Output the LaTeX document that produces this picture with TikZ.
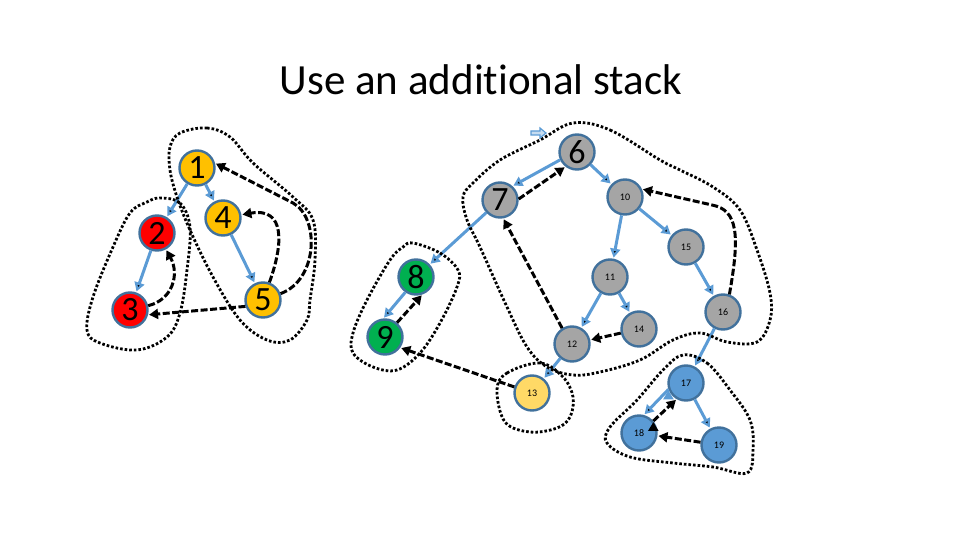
\documentclass[tikz,border=0pt]{standalone}
\usepackage{xcolor}
\usepackage{fontspec}
\setmainfont{Carlito}[Ligatures=NoCommon]
\usepackage {tikz}
\usetikzlibrary{automata, positioning, arrows.meta}

\definecolor{rim}{HTML}{41719C}
\definecolor{bluearc}{HTML}{5B9BD5}
\definecolor{gold}{HTML}{FFC000}
\definecolor{ash}{HTML}{A5A5A5}
\definecolor{leaf}{HTML}{00B050}
\definecolor{pale}{HTML}{FFD966}
\definecolor{sky}{HTML}{5B9BD5}

\tikzset{
	state/.append style={draw=rim, line width=2.4pt, minimum size=35pt, inner sep=0pt,
		font=\fontsize{34}{34}\selectfont},
	minor/.style={font=\fontsize{10}{10}\selectfont},
	treeline/.style={draw=bluearc, line width=3pt, -{Triangle[length=9pt,width=10pt]}},
	backline/.style={draw=black, line width=3pt, dash pattern=on 7pt off 2.5pt,
		-{Triangle[length=9pt,width=10pt]}},
	stackline/.style={draw=black, line width=2.8pt, dash pattern=on 2.6pt off 2pt},
}

\begin{document}
\begin{tikzpicture}[x=1pt,y=-1pt,shorten >=1pt,auto,semithick]
	\useasboundingbox (0,0) rectangle (960,540);
	\node[anchor=base, font=\fontsize{43}{43}\selectfont] (head) at (481,95) {Use an additional stack};

		\node[state,fill=gold]		(n1)	at (197,168)	{1};
		\node[state,fill=red]		(n2)	at (157,233)	{2};
		\node[state,fill=red]		(n3)	at (130,310)	{3};
		\node[state,fill=gold]		(n4)	at (223,218)	{4};
		\node[state,fill=gold]		(n5)	at (263,300)	{5};

		\node[state,fill=ash]		(n6)	at (577,152)	{6};
		\node[state,fill=ash]		(n7)	at (500,200)	{7};
		\node[state,fill=leaf]		(n8)	at (416,277)	{8};
		\node[state,fill=leaf]		(n9)	at (385,337)	{9};
		\node[state,minor,fill=ash]	(n10)	at (625,197)	{10};
		\node[state,minor,fill=ash]	(n11)	at (610,277)	{11};
		\node[state,minor,fill=ash]	(n12)	at (572,344)	{12};
		\node[state,minor,fill=pale]	(n13)	at (532,393)	{13};
		\node[state,minor,fill=ash]	(n14)	at (639,329)	{14};
		\node[state,minor,fill=ash]	(n15)	at (686,247)	{15};
		\node[state,minor,fill=ash]	(n16)	at (723,312)	{16};
		\node[state,minor,fill=sky]	(n17)	at (686,383)	{17};
		\node[state,minor,fill=sky]	(n18)	at (639,433)	{18};
		\node[state,minor,fill=sky]	(n19)	at (719,445)	{19};

		% the tree
		\path[treeline]
			(n1)	edge	(n2)
			(n1)	edge	(n4)
			(n2)	edge	(n3)
			(n4)	edge	(n5)
			(n6.205)	edge	(n7.48)
			(n6)	edge	(n10)
			(n7)	edge	(n8)
			(n8.235)	edge	(n9.95)
			(n10)	edge	(n11)
			(n10)	edge	(n15)
			(n11)	edge	(n12)
			(n11)	edge	(n14)
			(n15)	edge	(n16)
			(n16)	edge	(n17)
			(n12)	edge	(n13)
			(n17.200)	edge	(n18.75)
			(n17)	edge	(n19)
			;

		% pops from the stack
		\path[backline]
			(n5.200)	edge	(n3.-15)
			(n7.3)	edge	(n6.232)
			(n9.50)	edge	(n8.-70)
			(n13)	edge	(n9.-35)
			(n12.122)	edge	(n7.-80)
			(n14)	edge	(n12)
			(n18.40)	edge	(n17.240)
			(n19)	edge	(n18)
			;
		\draw[backline] (n3) .. controls (172,300) and (180,275) .. (n2);
		\draw[backline] (n5) .. controls (283,245) and (286,207) .. (n4);
		\draw[backline] (n5) .. controls (318,280) and (320,218) .. (293,203) -- (n1.15);
		\draw[backline] (n16.70) .. controls (740,235) and (738,210) .. (712,205) -- (n10.25);

		% stack groups
		\draw[stackline] plot[smooth cycle, tension=0.6] coordinates {
			(160,198) (180,203) (190,227) (187,270) (180,313) (167,337) (137,350)
			(100,343) (87,330) (93,297) (113,247) (130,213) (147,202)};
		\draw[stackline] plot[smooth cycle, tension=0.6] coordinates {
			(180,133) (207,128) (230,137) (253,163) (293,197) (313,220) (315,260)
			(310,300) (307,320) (290,340) (267,340) (240,320) (213,277) (190,230)
			(177,197) (170,170) (170,147)};
		\draw[stackline] plot[smooth cycle, tension=0.6] coordinates {
			(573,123) (610,130) (660,160) (680,170) (713,187) (740,210) (757,250)
			(770,293) (770,320) (757,342) (727,342) (700,333) (673,340) (640,360)
			(600,372) (573,375) (547,367) (527,347) (507,307) (480,247) (467,220)
			(463,197) (473,183) (500,160) (540,140)};
		\draw[stackline] plot[smooth cycle, tension=0.6] coordinates {
			(413,243) (440,253) (458,270) (457,287) (440,323) (420,353) (397,370)
			(373,367) (353,353) (353,333) (367,300) (390,260) (403,247)};
		\draw[stackline] plot[smooth cycle, tension=0.6] coordinates {
			(497,390) (507,373) (540,363) (563,377) (573,397) (570,417) (557,428)
			(530,432) (505,422)};
		\draw[stackline] plot[smooth cycle, tension=0.6] coordinates {
			(683,355) (707,363) (730,390) (750,420) (753,450) (747,473) (713,467)
			(673,463) (630,457) (607,443) (610,427) (637,400) (663,370)};

		% start marker
		\draw[bluearc, line width=1.2pt, fill=bluearc!35]
			(531,131) -- (540,131) -- (540,128) -- (546,133) -- (540,138) -- (540,135) -- (531,135) -- cycle;
\end{tikzpicture}
\end{document}
